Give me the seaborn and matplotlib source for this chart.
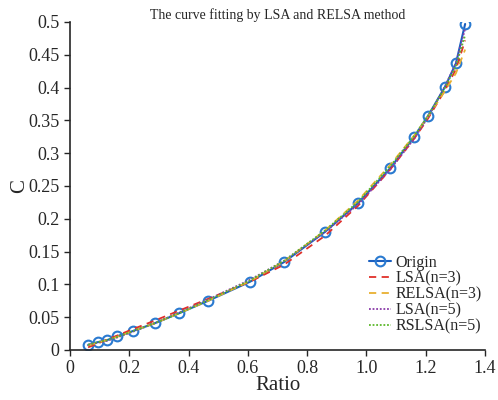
import matplotlib
matplotlib.use("Agg")
import matplotlib.pyplot as plt
import seaborn as sns
import pandas as pd

ratio = [0.061, 0.094, 0.125, 0.159, 0.213, 0.287, 0.368, 0.466, 0.607, 0.722,
         0.860, 0.972, 1.080, 1.161, 1.208, 1.265, 1.302, 1.333]
origin = [0.0076, 0.012, 0.015, 0.021, 0.029, 0.041, 0.056, 0.075, 0.104, 0.134,
          0.180, 0.224, 0.277, 0.325, 0.357, 0.401, 0.437, 0.497]
lsa3 = [0.004, 0.010, 0.016, 0.022, 0.032, 0.045, 0.060, 0.078, 0.104, 0.130,
        0.174, 0.220, 0.275, 0.322, 0.353, 0.396, 0.428, 0.472]
relsa3 = [0.007, 0.011, 0.015, 0.020, 0.029, 0.041, 0.056, 0.075, 0.105, 0.135,
          0.182, 0.228, 0.282, 0.327, 0.356, 0.395, 0.422, 0.458]
lsa5 = [0.008, 0.011, 0.014, 0.019, 0.028, 0.041, 0.057, 0.077, 0.107, 0.136,
        0.180, 0.222, 0.275, 0.322, 0.355, 0.402, 0.437, 0.490]
rslsa5 = [0.008, 0.012, 0.015, 0.020, 0.029, 0.041, 0.056, 0.076, 0.106, 0.136,
          0.182, 0.226, 0.280, 0.326, 0.357, 0.400, 0.433, 0.480]
x_ticks = [0, 0.2, 0.4, 0.6, 0.8, 1.0, 1.2, 1.4]
x_tick_labels = ["0", "0.2", "0.4", "0.6", "0.8", "1.0", "1.2", "1.4"]
y_ticks = [0, 0.05, 0.1, 0.15, 0.2, 0.25, 0.3, 0.35, 0.4, 0.45, 0.5]
y_tick_labels = ["0", "0.05", "0.1", "0.15", "0.2", "0.25", "0.3", "0.35", "0.4", "0.45", "0.5"]

sns.set_style("ticks")
plt.rcParams['font.family'] = ['Liberation Serif', 'DejaVu Serif']

fig = plt.figure(figsize=(4.98, 4.0), dpi=100)
ax = fig.add_axes([70/498, 50/400, 415/498, 328/400])

df_o = pd.DataFrame({"Ratio": ratio, "C": origin})
sns.lineplot(data=df_o, x="Ratio", y="C", ax=ax, color="#1a5fc0", linewidth=1.5,
             marker="o", markersize=7, markerfacecolor="none",
             markeredgecolor="#2a7ad0", markeredgewidth=1.5, label="Origin")

fits = [
    (lsa3, "LSA(n=3)", "#e0302a", (0, (4, 3))),
    (relsa3, "RELSA(n=3)", "#e8b030", (0, (4, 3))),
    (lsa5, "LSA(n=5)", "#8a3aa8", (0, (1, 1))),
    (rslsa5, "RSLSA(n=5)", "#5cb82a", (0, (1, 1))),
]
for vals, name, col, ls in fits:
    d = pd.DataFrame({"Ratio": ratio, "C": vals})
    sns.lineplot(data=d, x="Ratio", y="C", ax=ax, color=col, linewidth=1.3,
                 linestyle=ls, label=name)

ax.set_xlim(0, 1.4)
ax.set_ylim(0, 0.5)
ax.set_xticks(x_ticks)
ax.set_xticklabels(x_tick_labels)
ax.set_yticks(y_ticks)
ax.set_yticklabels(y_tick_labels)
ax.tick_params(labelsize=13, length=4, width=1, direction="out")
ax.set_xlabel("Ratio", fontsize=15, labelpad=-1)
ax.set_ylabel("C", fontsize=15, labelpad=-1)
sns.despine(ax=ax)
ax.spines["left"].set_linewidth(1.2)
ax.spines["bottom"].set_linewidth(1.2)
ax.set_title("The curve fitting by LSA and RELSA method", fontsize=10, pad=2, y=1.0)

leg = ax.legend(loc="lower right", bbox_to_anchor=(1.02, 0.012), frameon=False,
                fontsize=11.5, handlelength=1.4, handletextpad=0.3,
                labelspacing=0.0, borderaxespad=0.3)

fig.savefig("out.png", dpi=100)
